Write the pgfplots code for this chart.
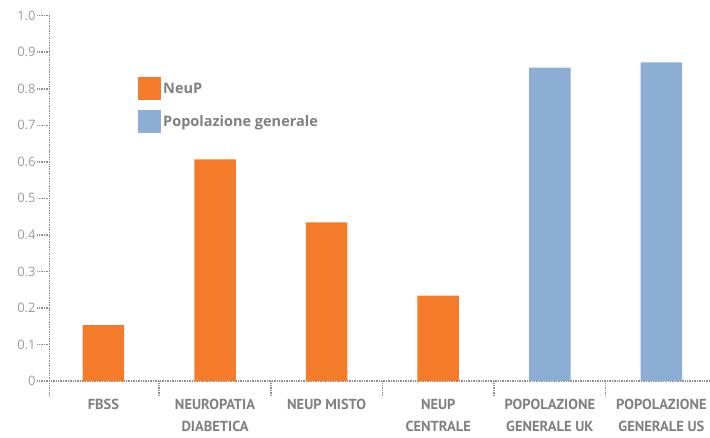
\documentclass[border=0pt]{standalone}
\usepackage{fontspec}
\setmainfont{Open Sans}
\newfontfamily\labfont{PT Sans}
\usepackage{pgfplots}
\pgfplotsset{compat=1.18}
\definecolor{neup}{RGB}{244,123,42}
\definecolor{pop}{RGB}{140,174,212}
\definecolor{axgray}{RGB}{140,140,140}
\definecolor{lblgray}{RGB}{128,128,128}
\definecolor{tickgray}{RGB}{155,155,155}
\tikzset{dotline/.style={draw=axgray, line width=1.5pt, dash pattern=on 1pt off 0.7pt}}
\begin{document}
\begin{tikzpicture}
\useasboundingbox (-49.3pt,-56pt) rectangle (660.7pt,381pt);
\begin{axis}[
  at={(0pt,0pt)}, anchor=south west,
  scale only axis, width=660.7pt, height=365.3pt,
  xmin=-0.485, xmax=5.435, ymin=0, ymax=1,
  axis lines=left,
  axis line style={dotline, -},
  clip=false,
  ytick={0,0.1,0.2,0.3,0.4,0.5,0.6,0.7,0.8,0.9,1.0},
  yticklabels={0,0.1,0.2,0.3,0.4,0.5,0.6,0.7,0.8,0.9,1.0},
  yticklabel style={font=\fontsize{13}{13}\selectfont, text=tickgray, inner sep=1.5pt},
  ytick style={dotline},
  major tick length=12pt,
  tick align=outside,
  xtick={0,1,2,3,4,5},
  xticklabels={FBSS, NEUROPATIA\\DIABETICA, NEUP MISTO, NEUP\\CENTRALE, POPOLAZIONE\\GENERALE UK, POPOLAZIONE\\GENERALE US},
  xticklabel style={font=\labfont\bfseries\fontsize{14.5}{21.7}\selectfont, text=lblgray, align=center, anchor=north, yshift=-3pt},
  xtick style={draw=none},
  extra x ticks={-0.485,0.5,1.5,2.5,3.5,4.5},
  extra x tick labels={},
  extra x tick style={major tick length=15pt, xtick style={dotline}},
  legend style={at={(0.1343,0.832)}, anchor=north west, draw=none, fill=none, inner sep=0pt, row sep=10pt,
    font=\bfseries\fontsize{14.5}{14.5}\selectfont, text=lblgray,
    /tikz/every even column/.append style={column sep=0pt}},
  legend cell align=left,
  legend image code/.code={\fill[#1] (0pt,-11.5pt) rectangle (23pt,11.5pt);},
]
\addplot[ybar, bar width=41.5pt, bar shift=0pt, fill=neup, draw=none]
  coordinates {(0,0.153) (1,0.607) (2,0.434) (3,0.234)};
\addlegendentry{NeuP}
\addplot[ybar, bar width=41.5pt, bar shift=0pt, fill=pop, draw=none]
  coordinates {(4,0.858) (5,0.872)};
\addlegendentry{Popolazione generale}
\end{axis}
\end{tikzpicture}
\end{document}
